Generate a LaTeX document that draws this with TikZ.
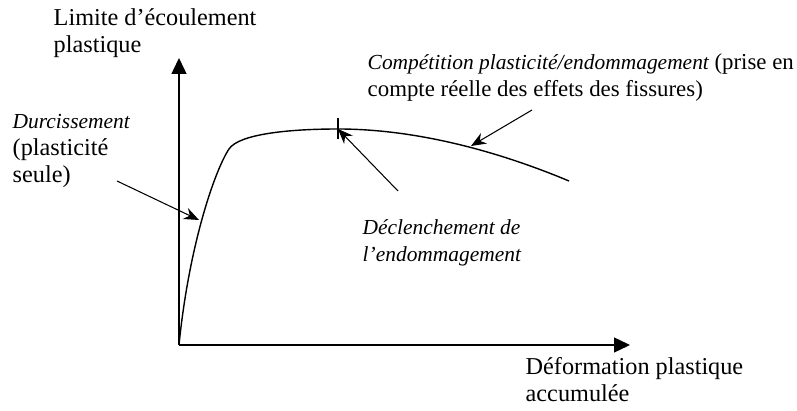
\documentclass[tikz,border=0pt]{standalone}
\usepackage{fontspec}
\setmainfont{Liberation Serif}
\usetikzlibrary{arrows.meta}
\newcommand{\ital}[1]{{\fontsize{12.2}{15.6}\selectfont\itshape #1}}
\tikzset{
  axe/.style={thick, -{Triangle[length=3.2mm,width=3mm]}},
  fleche/.style={semithick, -{Stealth[length=3mm,width=2.4mm]}},
  legende/.style={anchor=base west, align=left, inner sep=0pt}
}
\begin{document}
\begin{tikzpicture}[thick, every node/.append style={font=\fontsize{13.8}{15.6}\selectfont}]
  \useasboundingbox (-3.58,-1.3) rectangle (12.36,6.9);
  % axes
  \coordinate (O) at (0,0);
  \coordinate (ytip) at (0,5.74);
  \coordinate (xtip) at (9.02,0);
  \draw[axe] (O) -- (ytip);
  \draw[axe] (O) -- (xtip);
  \node[legende] (ylab) at (-2.52,5.84) {Limite d'écoulement\\plastique};
  \node[legende] (xlab) at (6.92,-1.14) {Déformation plastique\\accumulée};
  % courbe
  \coordinate (coude) at (1.0,3.92);
  \coordinate (seuil) at (3.18,4.32);
  \coordinate (fin) at (7.8,3.28);
  \draw (O) .. controls (0.2,2.0) and (0.72,3.5) .. (coude)
        .. controls (1.2,4.22) and (2.2,4.32) .. (seuil)
        .. controls (4.6,4.32) and (6.2,3.95) .. (fin);
  \draw ([yshift=-2.1mm]seuil) -- ([yshift=2.1mm]seuil);
  % durcissement
  \node[legende] (durc) at (-3.34,3.24) {\ital{Durcissement}\\(plasticité\\seule)};
  \coordinate (durcA) at (-1.24,3.28);
  \coordinate (durcB) at (0.4,2.5);
  \draw[fleche] (durcA) -- (durcB);
  % declenchement
  \node[legende] (decl) at (3.66,1.66) {\ital{Déclenchement de}\\\ital{l'endommagement}};
  \coordinate (declA) at (4.38,3.08);
  \draw[fleche] (declA) -- (seuil);
  % competition
  \node[legende, font=\fontsize{13}{15.6}\selectfont] (comp) at (3.76,4.96)
    {\ital{Compétition plasticité/endommagement} (prise en\\compte réelle des effets des fissures)};
  \coordinate (compA) at (7.06,4.7);
  \coordinate (compB) at (5.84,3.98);
  \draw[fleche] (compA) -- (compB);
\end{tikzpicture}
\end{document}
